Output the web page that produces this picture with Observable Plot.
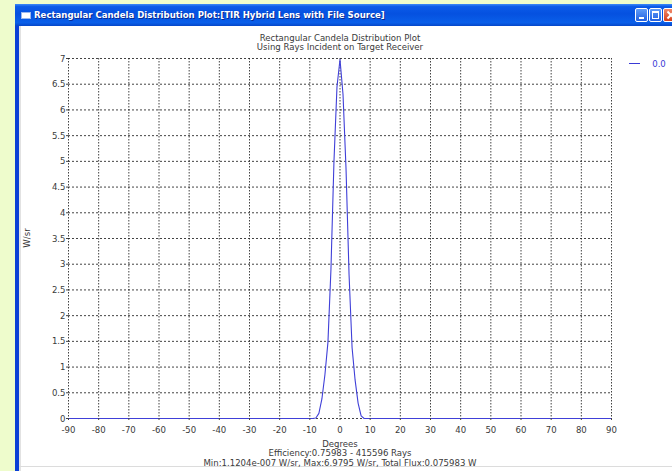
<!DOCTYPE html>
<html>
<head>
<meta charset="utf-8">
<script src="https://cdn.jsdelivr.net/npm/d3@7"></script>
<script src="https://cdn.jsdelivr.net/npm/@observablehq/plot@0.6"></script>
<style>
  html, body { margin: 0; padding: 0; }
  body { width: 672px; height: 471px; background: #eefccc; position: relative; overflow: hidden;
         font-family: "Liberation Sans Narrow", "DejaVu Sans Condensed", "Liberation Sans", sans-serif; }
  .abs { position: absolute; }
  #win { left: 15px; top: 4px; width: 680px; height: 480px; background: #0a3fd6; }
  #titlebar { left: 15px; top: 4px; width: 680px; height: 22px;
     background: linear-gradient(#3d8af7 0%, #0a5ae8 12%, #0551e0 45%, #0a5fe9 85%, #0646c8 100%); }
  #icon { left: 21px; top: 12px; width: 10px; height: 7px; background: #fff; border: 1px solid #9bb8ee; box-sizing: border-box; }
  #wintitle { left: 34px; top: 9px; color: #fff; font-weight: bold; font-size: 9.5px; white-space: nowrap;
     text-shadow: 1px 1px 0 #0a2a90; }
  .btn { top: 8px; width: 13px; height: 14px; border: 1px solid #fff; border-radius: 2px; box-sizing: border-box;
     background: linear-gradient(#5f9cf8, #2360e0); }
  .xbar { position: absolute; left: 2px; top: 5px; width: 10px; height: 2px; background: #fff; }
  #content { left: 19px; top: 26px; width: 680px; height: 450px; background: #fff; }
  #edge { left: 19px; top: 26px; width: 2px; height: 450px; background: #e2e2e2; }
  #bot { left: 19px; top: 466px; width: 680px; height: 1px; background: #dcdcdc; }
  .txt { color: #3a3a3a; font-size: 9.5px; white-space: nowrap; transform: translate(-50%, -50%); }
  #plot { left: 0; top: 0; }
</style>
</head>
<body>
<div id="win" class="abs"></div>
<div id="titlebar" class="abs"></div>
<div id="icon" class="abs"></div>
<div id="wintitle" class="abs">Rectangular Candela Distribution Plot:[TIR Hybrid Lens with File Source]</div>
<div class="abs btn" style="left:635px;"><div style="position:absolute;left:3px;top:8px;width:5px;height:2px;background:#fff"></div></div>
<div class="abs btn" style="left:649px;"><div style="position:absolute;left:2px;top:2px;width:7px;height:8px;border:1px solid #fff;border-top-width:2px;box-sizing:border-box"></div></div>
<div class="abs btn" style="left:663px;width:16px;background:linear-gradient(#f08a6a,#d5401c);">
  <div class="xbar" style="transform:rotate(45deg);"></div>
  <div class="xbar" style="transform:rotate(-45deg);"></div>
</div>
<div id="content" class="abs"></div>
<div id="edge" class="abs"></div>
<div id="bot" class="abs"></div>
<div id="plot" class="abs"></div>

<div class="abs txt" style="left:340px;top:36.5px;">Rectangular Candela Distribution Plot</div>
<div class="abs txt" style="left:340px;top:46px;">Using Rays Incident on Target Receiver</div>
<div class="abs txt" style="left:340px;top:442.5px;">Degrees</div>
<div class="abs txt" style="left:340px;top:452px;">Efficiency:0.75983 - 415596 Rays</div>
<div class="abs txt" style="left:340px;top:461.5px;">Min:1.1204e-007 W/sr, Max:6.9795 W/sr, Total Flux:0.075983 W</div>
<div class="abs txt" style="left:26px;top:238px;transform:translate(-50%,-50%) rotate(-90deg);">W/sr</div>
<div class="abs" style="left:629px;top:63px;width:11px;height:1px;background:#3a3ad6;"></div>
<div class="abs txt" style="left:659px;top:63px;color:#3a3ad6;">0.0</div>

<script>
const degrees = [-90, -9, -8, -7, -6, -5, -4, -3, -2, -1, 0, 1, 2, 3, 4, 5, 6, 7, 8, 90];
const candela = [0, 0, 0.01, 0.1, 0.38, 0.85, 1.48, 2.9, 5.0, 6.45, 6.98, 6.3, 4.85, 2.8, 1.38, 0.75, 0.3, 0.05, 0, 0];
const xTicks = [-90, -80, -70, -60, -50, -40, -30, -20, -10, 0, 10, 20, 30, 40, 50, 60, 70, 80, 90];
const yTicks = [0, 0.5, 1, 1.5, 2, 2.5, 3, 3.5, 4, 4.5, 5, 5.5, 6, 6.5, 7];

const data = degrees.map((d, i) => ({deg: d, val: candela[i]}));

const chart = Plot.plot({
  width: 672,
  height: 471,
  marginLeft: 68,
  marginRight: 61,
  marginTop: 58,
  marginBottom: 53,
  x: {domain: [-90, 90]},
  y: {domain: [0, 7]},
  style: {background: "transparent", fontFamily: "'Liberation Sans Narrow', 'DejaVu Sans Condensed', 'Liberation Sans', sans-serif", fontSize: "9.5px", color: "#3a3a3a"},
  marks: [
    Plot.gridY(yTicks, {stroke: "#222", strokeOpacity: 0.85, strokeDasharray: "2,2"}),
    Plot.gridX(xTicks, {stroke: "#222", strokeOpacity: 0.85, strokeDasharray: "1.5,1.5"}),
    Plot.line(data, {x: "deg", y: "val", stroke: "#4040d8", strokeWidth: 1.1}),
    Plot.axisX(xTicks, {tickSize: 2, tickPadding: 6, tickFormat: d => String(d), label: null, stroke: "#444"}),
    Plot.axisY(yTicks, {tickSize: 2, tickPadding: 1, tickFormat: d => String(d), label: null, stroke: "#444"})
  ]
});
document.getElementById("plot").appendChild(chart);
</script>
</body>
</html>
